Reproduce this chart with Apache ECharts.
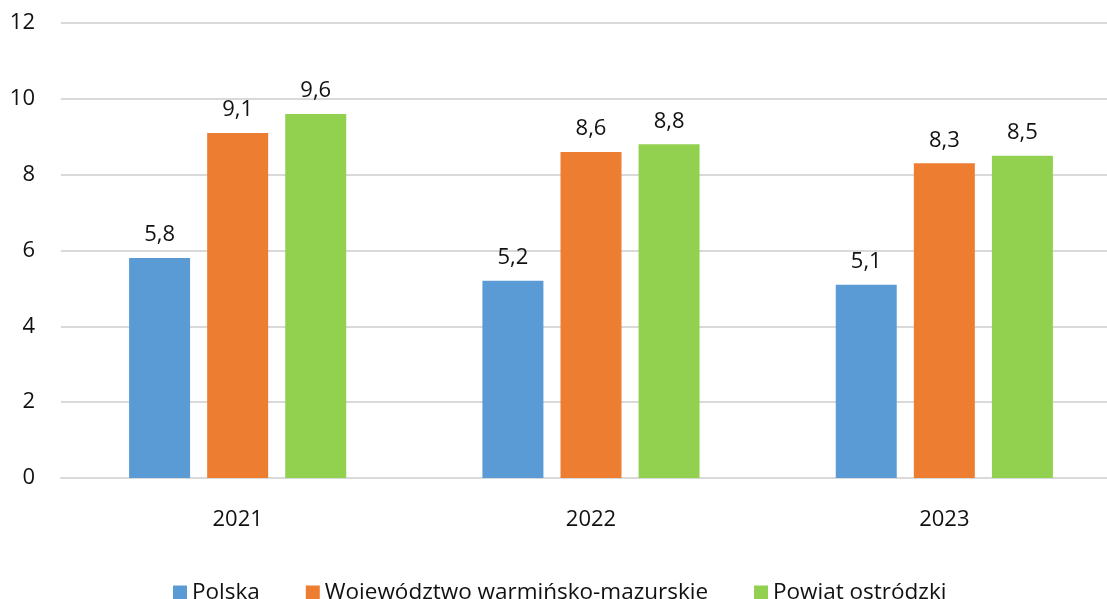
<!DOCTYPE html>
<html>
<head>
<meta charset="utf-8">
<script src="https://cdn.jsdelivr.net/npm/echarts@6/dist/echarts.min.js"></script>
<style>
  html, body { margin: 0; padding: 0; background: #fff; overflow: hidden; }
  #chart { width: 1121px; height: 599px; }
</style>
</head>
<body>
<div id="chart"></div>
<script>
var years = ['2021', '2022', '2023']
var polska = [5.8, 5.2, 5.1]
var wojewodztwo = [9.1, 8.6, 8.3]
var powiat = [9.6, 8.8, 8.5]
var seriesNames = ['Polska', 'Województwo warmińsko-mazurskie', 'Powiat ostródzki']

// plot area runs a little past the right edge of the window, like the original
var chart = echarts.init(document.getElementById('chart'))

var fontFamily = '"Open Sans", "Noto Sans", sans-serif'

function labelFmt(p) {
  return String(p.value).replace('.', ',')
}

function makeBar(name, data, color) {
  return {
    name: name,
    type: 'bar',
    barWidth: 61,
    barGap: '28%',
    data: data,
    itemStyle: { color: color },
    label: {
      show: true,
      position: 'top',
      distance: 12,
      color: '#111',
      fontSize: 22,
      fontFamily: fontFamily,
      formatter: labelFmt
    }
  }
}

var option = {
  animation: false,
  grid: {
    left: 61,
    right: 0,
    top: 23,
    bottom: 121
  },
  legend: {
    top: 576,
    left: 168,
    itemWidth: 14,
    itemHeight: 14,
    itemGap: 46,
    icon: 'rect',
    textStyle: { fontSize: 22.5, color: '#111', fontFamily: fontFamily },
    data: seriesNames
  },
  xAxis: {
    type: 'category',
    data: years,
    axisTick: { show: false },
    axisLine: { lineStyle: { color: '#d9d9d9', width: 2 } },
    axisLabel: { color: '#111', fontSize: 22, fontFamily: fontFamily, margin: 31 }
  },
  yAxis: {
    type: 'value',
    min: 0,
    max: 12,
    interval: 2,
    axisLine: { show: false },
    axisTick: { show: false },
    splitLine: { lineStyle: { color: '#d9d9d9', width: 2 } },
    axisLabel: { color: '#111', fontSize: 22, fontFamily: fontFamily, margin: 26 }
  },
  series: [
    makeBar(seriesNames[0], polska, '#5B9BD5'),
    makeBar(seriesNames[1], wojewodztwo, '#ED7D31'),
    makeBar(seriesNames[2], powiat, '#92D050')
  ]
}
chart.setOption(option)
</script>
</body>
</html>
